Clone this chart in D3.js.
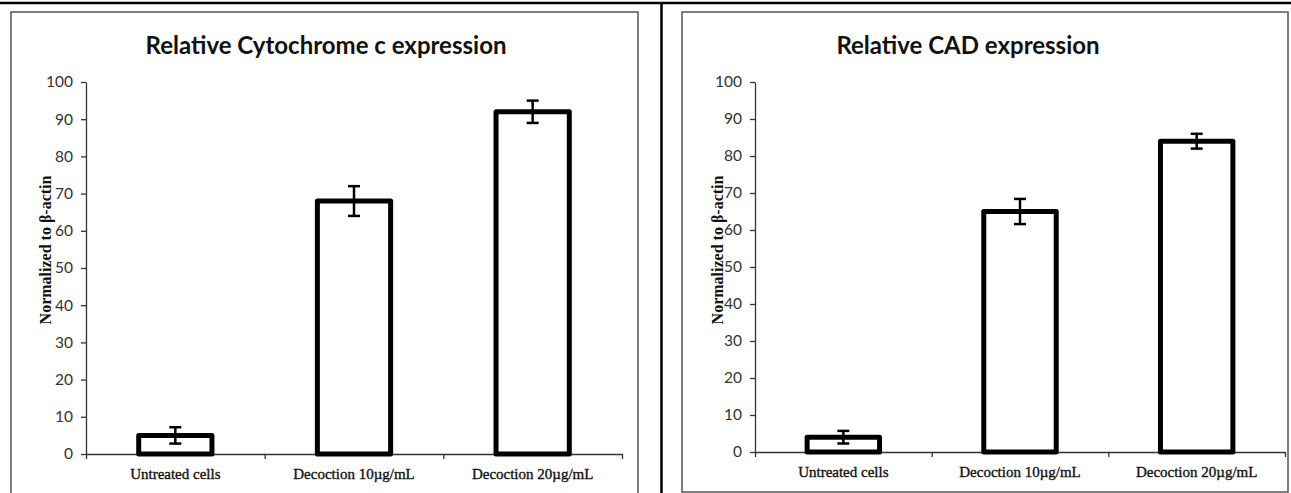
<!DOCTYPE html>
<html>
<head>
<meta charset="utf-8">
<script src="https://cdn.jsdelivr.net/npm/d3@7"></script>
<style>
  body { margin: 0; background: #fff; }
  svg { display: block; }
</style>
</head>
<body>
<svg id="chart" width="1291" height="493"></svg>
<script>
// data
var categories = ["Untreated cells", "Decoction 10\u00b5g/mL", "Decoction 20\u00b5g/mL"];
var cytoValues = [5, 68, 92];
var cytoErrors = [2.2, 4, 3];
var cadValues = [4, 65, 84];
var cadErrors = [1.7, 3.4, 2];
var yTicks = [0, 10, 20, 30, 40, 50, 60, 70, 80, 90, 100];
var titles = ["Relative Cytochrome c expression", "Relative CAD expression"];
var yLabel = "Normalized to \u03b2-actin";

var svg = d3.select("#chart");

// page table lines
svg.append("line").attr("x1", 0).attr("x2", 1291).attr("y1", 3).attr("y2", 3)
  .attr("stroke", "#000").attr("stroke-width", 2.5);
svg.append("line").attr("x1", 661.5).attr("x2", 661.5).attr("y1", 3).attr("y2", 493)
  .attr("stroke", "#000").attr("stroke-width", 2.5);

function drawPanel(cfg) {
  var g = svg.append("g");

  // chart frame
  g.append("rect")
    .attr("x", cfg.frame[0]).attr("y", cfg.frame[1])
    .attr("width", cfg.frame[2]).attr("height", cfg.frame[3])
    .attr("fill", "none").attr("stroke", "#555").attr("stroke-width", 1.5);

  g.append("text")
    .attr("x", cfg.titleX).attr("y", 54)
    .attr("text-anchor", "middle")
    .style("font-family", "Lato, 'Open Sans', sans-serif")
    .style("font-weight", "bold").style("font-size", "24px")
    .attr("fill", "#111")
    .text(cfg.title);

  var x = d3.scaleBand().domain(categories)
    .range([cfg.left, cfg.right]).paddingInner(0.59).paddingOuter(0.295);
  var y = d3.scaleLinear().domain([0, 100]).range([cfg.bottom, 82]);

  // y axis
  var ya = g.append("g")
    .attr("transform", "translate(" + cfg.left + ",0)")
    .call(d3.axisLeft(y).tickValues(yTicks).tickSize(5).tickSizeOuter(0).tickPadding(8));
  ya.select(".domain").attr("stroke", "#333").attr("stroke-width", 1.3);
  ya.selectAll(".tick line").attr("stroke", "#333").attr("stroke-width", 1.3);
  ya.selectAll(".tick text")
    .style("font-family", "Lato, 'Open Sans', sans-serif")
    .style("font-size", "15.5px").attr("fill", "#333");

  // x axis: boundary ticks from a linear scale, labels from the band scale
  var xb = d3.scaleLinear().domain([0, categories.length]).range([cfg.left, cfg.right]);
  var xa = g.append("g")
    .attr("transform", "translate(0," + cfg.bottom + ")")
    .call(d3.axisBottom(xb).ticks(categories.length).tickSize(5).tickSizeOuter(0).tickFormat(""));
  xa.select(".domain").attr("stroke", "#333").attr("stroke-width", 1.3);
  xa.selectAll(".tick line").attr("stroke", "#333").attr("stroke-width", 1.3);

  var xl = g.append("g")
    .attr("transform", "translate(0," + cfg.bottom + ")")
    .call(d3.axisBottom(x).tickSize(0).tickPadding(14));
  xl.select(".domain").remove();
  xl.selectAll(".tick text")
    .style("font-family", "'Liberation Serif', 'Times New Roman', serif")
    .style("font-size", "15px").attr("fill", "#111")
    .attr("stroke", "#111").attr("stroke-width", 0.35);

  // y label
  g.append("text")
    .attr("transform", "translate(" + cfg.labelX + ",250) rotate(-90)")
    .attr("text-anchor", "middle")
    .style("font-family", "'Liberation Serif', 'Times New Roman', serif")
    .style("font-weight", "bold").style("font-size", "16px")
    .attr("fill", "#111")
    .text(yLabel);

  var rows = categories.map(function(c, i) {
    return { cat: c, v: cfg.values[i], e: cfg.errors[i] };
  });

  // bars
  g.selectAll("rect.bar").data(rows).enter().append("rect")
    .attr("class", "bar")
    .attr("x", function(d) { return x(d.cat); })
    .attr("y", function(d) { return y(d.v); })
    .attr("width", x.bandwidth())
    .attr("height", function(d) { return y(0) - y(d.v); })
    .attr("fill", "#fff").attr("stroke", "#000").attr("stroke-width", 5)
    .attr("stroke-linejoin", "round");

  // error bars
  var eb = g.selectAll("g.err").data(rows).enter().append("g").attr("class", "err")
    .attr("stroke", "#000").attr("stroke-width", 2.5);
  var cx = function(d) { return x(d.cat) + x.bandwidth() / 2; };
  eb.append("line")
    .attr("x1", cx).attr("x2", cx)
    .attr("y1", function(d) { return y(d.v + d.e); })
    .attr("y2", function(d) { return y(d.v - d.e); });
  eb.append("line")
    .attr("x1", function(d) { return cx(d) - 6; }).attr("x2", function(d) { return cx(d) + 6; })
    .attr("y1", function(d) { return y(d.v + d.e); })
    .attr("y2", function(d) { return y(d.v + d.e); });
  eb.append("line")
    .attr("x1", function(d) { return cx(d) - 6; }).attr("x2", function(d) { return cx(d) + 6; })
    .attr("y1", function(d) { return y(d.v - d.e); })
    .attr("y2", function(d) { return y(d.v - d.e); });
}

drawPanel({
  frame: [11, 12, 627, 500],
  title: titles[0], titleX: 326,
  left: 86, right: 622, bottom: 454,
  labelX: 51,
  values: cytoValues, errors: cytoErrors
});

drawPanel({
  frame: [682, 12, 606, 480],
  title: titles[1], titleX: 968,
  left: 755, right: 1285, bottom: 452,
  labelX: 723,
  values: cadValues, errors: cadErrors
});
</script>
</body>
</html>
